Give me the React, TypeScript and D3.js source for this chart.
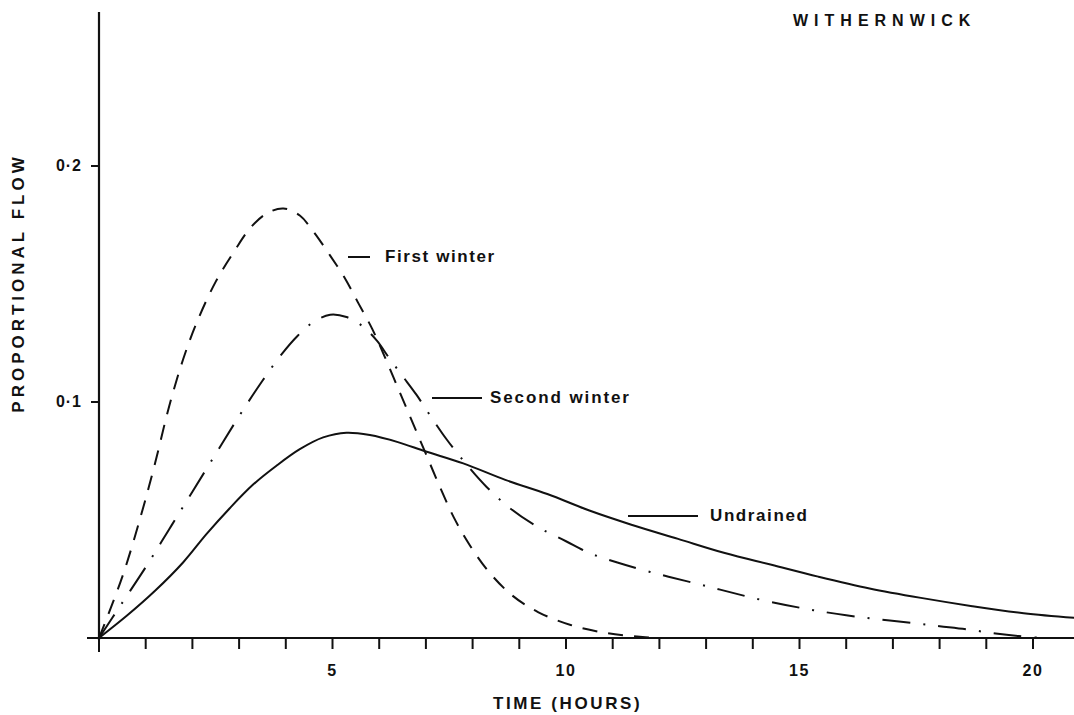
import React from "react";
import * as d3 from "d3";

const firstWinter: [number, number][] = [
  [0, 0], [0.5, 0.026], [0.9, 0.052], [1.2, 0.074], [1.5, 0.098],
  [1.8, 0.118], [2.1, 0.134], [2.5, 0.151], [2.9, 0.164], [3.25, 0.174],
  [3.6, 0.18], [3.95, 0.182], [4.3, 0.179], [4.6, 0.172], [4.95, 0.162], [5.25, 0.153],
  [5.55, 0.142], [5.85, 0.131], [6.1, 0.12], [6.4, 0.106], [6.7, 0.092], [7.0, 0.078],
  [7.3, 0.064], [7.6, 0.051], [7.95, 0.039], [8.35, 0.028], [8.85, 0.018], [9.4, 0.011],
  [10.1, 0.0055], [10.9, 0.002], [11.7, 0.0003], [12, 0],
];

const secondWinter: [number, number][] = [
  [0, 0], [0.5, 0.015], [1.0, 0.03], [1.5, 0.046], [2.0, 0.062], [2.5, 0.078],
  [3.0, 0.094], [3.5, 0.109], [3.9, 0.12], [4.25, 0.128], [4.6, 0.134], [4.95, 0.137],
  [5.3, 0.136], [5.65, 0.132], [5.95, 0.126], [6.2, 0.119], [6.5, 0.111], [6.8, 0.103],
  [7.1, 0.094], [7.45, 0.084], [7.85, 0.074], [8.3, 0.064], [8.8, 0.055], [9.4, 0.047],
  [10, 0.041], [10.5, 0.036], [11.1, 0.032], [11.8, 0.028], [12.6, 0.024], [13.3, 0.0205],
  [14, 0.017], [14.7, 0.014], [15.3, 0.0118], [16, 0.0096], [16.7, 0.0079], [17.4, 0.0064],
  [18, 0.005], [18.6, 0.0036], [19.2, 0.0019], [19.7, 0.0008], [20.2, 0],
];

const undrained: [number, number][] = [
  [0, 0], [0.6, 0.0095], [1.2, 0.02], [1.8, 0.032], [2.3, 0.044], [2.8, 0.055],
  [3.3, 0.065], [3.8, 0.073], [4.3, 0.08], [4.8, 0.085], [5.3, 0.087], [5.8, 0.086],
  [6.4, 0.083], [7.0, 0.079], [7.8, 0.074], [8.7, 0.067], [9.6, 0.061], [10.5, 0.054],
  [11.4, 0.048], [12.4, 0.042], [13.4, 0.036], [14.4, 0.031], [15.4, 0.026], [16.5, 0.021],
  [17.6, 0.017], [18.7, 0.0135], [19.8, 0.0105], [20.9, 0.0085],
];

const xMinorTicks = d3.range(0, 21, 1);
const xTickLabels = [5, 10, 15, 20];
const yTicks = [0.1, 0.2];
const yTickLabels = ["0·1", "0·2"];

const seriesLabels = ["First winter", "Second winter", "Undrained"];
const title = "WITHERNWICK";
const xTitle = "TIME (HOURS)";
const yTitle = "PROPORTIONAL FLOW";

const W = 1074;
const H = 715;

export default function App() {
  const x = d3.scaleLinear().domain([0, 20]).range([99, 1033]);
  const y = d3.scaleLinear().domain([0, 0.2]).range([638, 166]);
  const line = d3
    .line<[number, number]>()
    .x((d) => x(d[0]))
    .y((d) => Math.min(y(0), y(d[1])))
    .curve(d3.curveCatmullRom.alpha(0.5));

  const font = "'Liberation Sans', Arial, sans-serif";
  const textStyle = { fontFamily: font, fontWeight: 700 as const, fill: "#111" };

  return (
    <svg
      width={W}
      height={H}
      style={{ position: "absolute", left: 0, top: 0, background: "#fff" }}
    >
      {/* axes */}
      <line x1={x(0)} x2={x(0)} y1={12} y2={y(0) + 2} stroke="#111" strokeWidth={2.2} />
      <line x1={x(0) - 12} x2={W} y1={y(0)} y2={y(0)} stroke="#111" strokeWidth={2.2} />
      {xMinorTicks.map((t) => (
        <line
          key={"xt" + t}
          x1={x(t)}
          x2={x(t)}
          y1={y(0)}
          y2={y(0) + (t === 0 ? 14 : 11)}
          stroke="#111"
          strokeWidth={2}
        />
      ))}
      {xTickLabels.map((t) => (
        <text
          key={"xl" + t}
          x={x(t)}
          y={672}
          textAnchor="middle"
          dominantBaseline="middle"
          fontSize={16}
          letterSpacing={1.5}
          style={textStyle}
        >
          {t}
        </text>
      ))}
      {yTicks.map((t, i) => (
        <g key={"yt" + t}>
          <line x1={x(0) - 8} x2={x(0)} y1={y(t)} y2={y(t)} stroke="#111" strokeWidth={2} />
          <text
            x={82}
            y={y(t) + 1}
            textAnchor="end"
            dominantBaseline="middle"
            fontSize={16}
            letterSpacing={1}
            style={textStyle}
          >
            {yTickLabels[i]}
          </text>
        </g>
      ))}

      {/* curves */}
      <path d={line(firstWinter) || ""} fill="none" stroke="#111" strokeWidth={2} strokeDasharray="15,11" />
      <path d={line(secondWinter) || ""} fill="none" stroke="#111" strokeWidth={2} strokeDasharray="28,13,2,13" />
      <path d={line(undrained) || ""} fill="none" stroke="#111" strokeWidth={2} />

      {/* series labels with leaders */}
      <line x1={348} x2={370} y1={257} y2={257} stroke="#111" strokeWidth={2} />
      <text x={385} y={258} dominantBaseline="middle" fontSize={17} letterSpacing={1.6} style={textStyle}>
        {seriesLabels[0]}
      </text>
      <line x1={432} x2={482} y1={398} y2={398} stroke="#111" strokeWidth={2} />
      <text x={490} y={399} dominantBaseline="middle" fontSize={17} letterSpacing={1.9} style={textStyle}>
        {seriesLabels[1]}
      </text>
      <line x1={628} x2={698} y1={516} y2={516} stroke="#111" strokeWidth={2} />
      <text x={710} y={517} dominantBaseline="middle" fontSize={17} letterSpacing={1.6} style={textStyle}>
        {seriesLabels[2]}
      </text>

      {/* titles */}
      <text x={793} y={22} dominantBaseline="middle" fontSize={16} letterSpacing={6} style={textStyle}>
        {title}
      </text>
      <text x={493} y={705} dominantBaseline="middle" fontSize={17} letterSpacing={2.6} style={textStyle}>
        {xTitle}
      </text>
      <text
        transform={`translate(20, 283) rotate(-90)`}
        textAnchor="middle"
        dominantBaseline="middle"
        fontSize={17}
        letterSpacing={4}
        style={textStyle}
      >
        {yTitle}
      </text>
    </svg>
  );
}
